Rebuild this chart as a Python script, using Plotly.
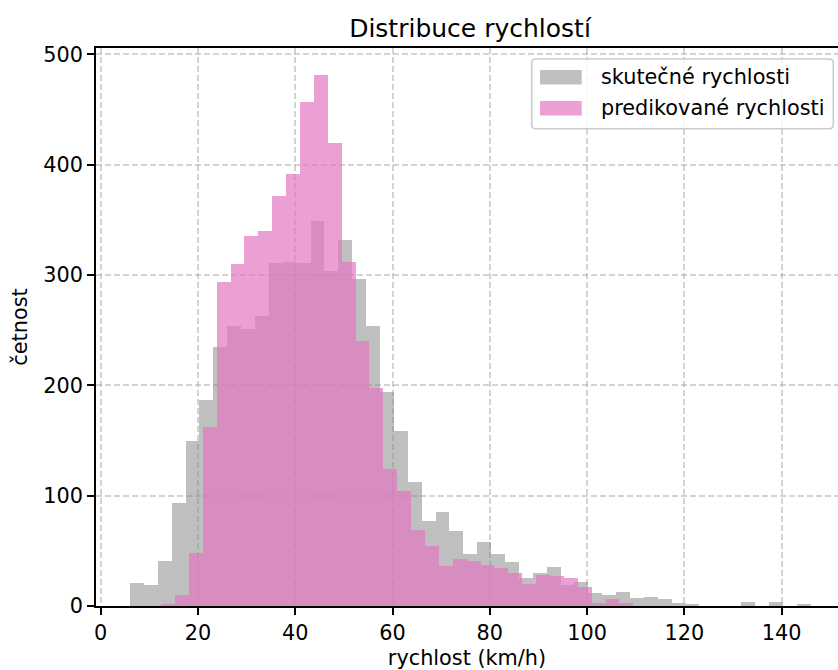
import plotly.graph_objects as go

# Histogram bins (km/h): left edge of the first bin of each series and the common bin width
actual_start = 6.03
predicted_start = 12.41
bin_width = 2.856

# Counts per bin
actual_counts = [21, 19, 41, 93, 150, 187, 235, 254, 251, 263, 311, 312, 311, 349, 304,
                 332, 296, 254, 194, 159, 112, 77, 85, 68, 47, 58, 47, 40, 25, 30, 35,
                 19, 22, 12, 10, 13, 7, 8, 6, 3, 2, 0, 0, 0, 4, 0, 4, 0, 2]
predicted_counts = [2, 10, 48, 162, 294, 310, 335, 340, 372, 392, 457, 481, 420, 312, 240,
                    198, 124, 104, 69, 54, 36, 43, 41, 37, 34, 30, 20, 28, 27, 25, 17,
                    3, 6, 3]

series_names = ["skutečné rychlosti", "predikované rychlosti"]
x_ticks = [0, 20, 40, 60, 80, 100, 120, 140]
y_ticks = [0, 100, 200, 300, 400, 500]

title_text = "Distribuce rychlostí"
x_label = "rychlost (km/h)"
y_label = "četnost"

gray_fill = "rgba(128,128,128,0.5)"
pink_fill = "rgba(227,119,194,0.7)"
font_family = "DejaVu Sans, Verdana, sans-serif"
base_size = 20.8


def centers(start, n):
    return [start + bin_width * (i + 0.5) for i in range(n)]


fig = go.Figure()
fig.add_trace(go.Bar(
    x=centers(actual_start, len(actual_counts)), y=actual_counts, width=bin_width,
    name=series_names[0], marker=dict(color=gray_fill, line=dict(width=0)),
    showlegend=False,
))
fig.add_trace(go.Bar(
    x=centers(predicted_start, len(predicted_counts)), y=predicted_counts, width=bin_width,
    name=series_names[1], marker=dict(color=pink_fill, line=dict(width=0)),
    showlegend=False,
))

# plot-area geometry (pixels)
W, H = 838, 670
L, R, T, B = 96, 0, 48, 64
PW, PH = W - L - R, H - T - B
x_px_per_unit = 4.863
x_min = -0.97
x_max = x_min + PW / x_px_per_unit
y_max = 505.8

grid = dict(showgrid=True, gridcolor="rgba(160,160,160,0.45)", gridwidth=1.6, griddash="6px,3px")
axis_common = dict(
    showline=True, linecolor="black", linewidth=1.67,
    ticks="outside", ticklen=7, tickwidth=1.67, tickcolor="black",
    zeroline=False, tickfont=dict(family=font_family, size=base_size, color="black"),
    **grid,
)

fig.update_layout(
    width=W, height=H,
    margin=dict(l=L, r=R, t=T, b=B, pad=0),
    paper_bgcolor="white", plot_bgcolor="white",
    barmode="overlay", bargap=0,
    font=dict(family=font_family, size=base_size, color="black"),
    title=dict(text=title_text, x=470 / W, xref="container", xanchor="center",
               y=1 - 28 / H, yref="container", yanchor="middle",
               font=dict(family=font_family, size=25, color="black")),
    xaxis=dict(range=[x_min, x_max], tickvals=x_ticks, mirror=True,
               title=dict(text=x_label, standoff=8,
                          font=dict(family=font_family, size=base_size, color="black")),
               **axis_common),
    yaxis=dict(range=[0, y_max], tickvals=y_ticks,
               title=dict(text=y_label, standoff=10,
                          font=dict(family=font_family, size=base_size, color="black")),
               **axis_common),
)


def px_x(px):
    return (px - L) / PW


def px_y(py):
    return (T + PH - py) / PH


# legend frame with rounded corners
bx0, bx1, by0, by1, rad = 531.7, 833.3, 59.0, 128.7, 4.0
path = (
    f"M {px_x(bx0 + rad)} {px_y(by0)} L {px_x(bx1 - rad)} {px_y(by0)} "
    f"Q {px_x(bx1)} {px_y(by0)} {px_x(bx1)} {px_y(by0 + rad)} "
    f"L {px_x(bx1)} {px_y(by1 - rad)} "
    f"Q {px_x(bx1)} {px_y(by1)} {px_x(bx1 - rad)} {px_y(by1)} "
    f"L {px_x(bx0 + rad)} {px_y(by1)} "
    f"Q {px_x(bx0)} {px_y(by1)} {px_x(bx0)} {px_y(by1 - rad)} "
    f"L {px_x(bx0)} {px_y(by0 + rad)} "
    f"Q {px_x(bx0)} {px_y(by0)} {px_x(bx0 + rad)} {px_y(by0)} Z"
)
fig.add_shape(type="path", path=path, xref="paper", yref="paper", layer="above",
              fillcolor="rgba(255,255,255,0.8)", line=dict(color="#cccccc", width=1.6))

rows = [(77.2, gray_fill, series_names[0]), (108.2, pink_fill, series_names[1])]
for cy, color, label in rows:
    fig.add_shape(type="rect", xref="paper", yref="paper", layer="above",
                  x0=px_x(540), x1=px_x(581.7), y0=px_y(cy - 7.2), y1=px_y(cy + 7.2),
                  fillcolor=color, line=dict(width=0))
    fig.add_annotation(x=px_x(599), y=px_y(cy), xref="paper", yref="paper",
                       text=label, showarrow=False, xanchor="left", yanchor="middle",
                       font=dict(family=font_family, size=base_size, color="black"))

fig.write_html("out.html")
